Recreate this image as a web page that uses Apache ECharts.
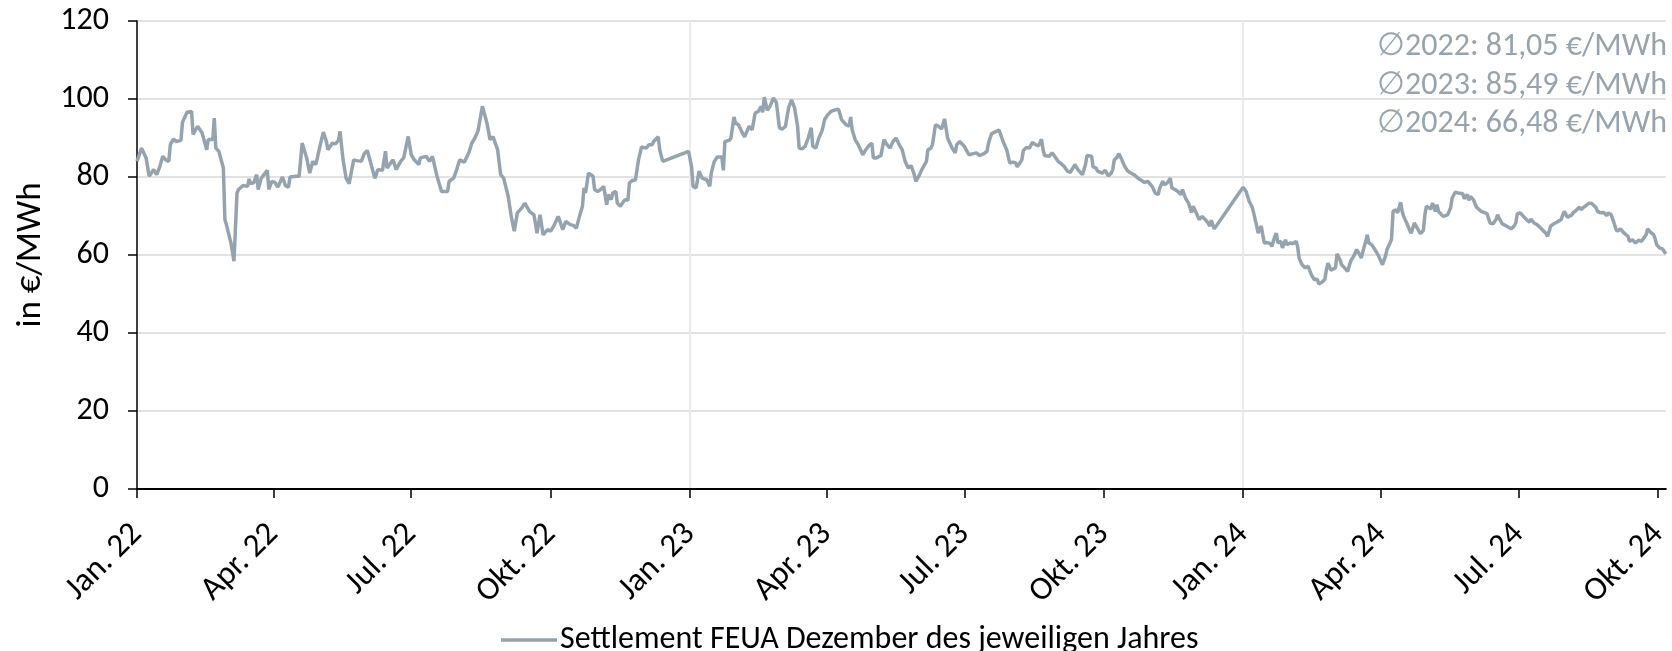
<!DOCTYPE html>
<html>
<head>
<meta charset="utf-8">
<script src="https://cdn.jsdelivr.net/npm/echarts@6/dist/echarts.min.js"></script>
<style>
html,body{margin:0;padding:0;background:#fff;}
#chart{width:1672px;height:651px;}
</style>
</head>
<body>
<div id="chart"></div>
<script>
// ---- DATA ----
const startDate = '2022-01-01';
const dayCount = 1010; // daily categories 2022-01-01 .. 2024-10-06

const tickDates  = ['2022-01-01','2022-04-01','2022-07-01','2022-10-01','2023-01-01','2023-04-01','2023-07-01','2023-10-01','2024-01-01','2024-04-01','2024-07-01','2024-10-01'];
const tickLabels = ['Jan. 22','Apr. 22','Jul. 22','Okt. 22','Jan. 23','Apr. 23','Jul. 23','Okt. 23','Jan. 24','Apr. 24','Jul. 24','Okt. 24'];
const yearLines  = ['2023-01-01','2024-01-01'];

const seriesName = 'Settlement FEUA Dezember des jeweiligen Jahres';
const averageTexts = ['\u22052022: 81,05 €/MWh','\u22052023: 85,49 €/MWh','\u22052024: 66,48 €/MWh'];

// [days since 2022-01-01, €/MWh]
const dec22Contract = [
[0,84.0],[3,87.4],[6,84.9],[8,80.2],[9,80.0],[11,81.9],[13,80.6],[15,82.6],[17,85.3],[19,84.4],[21,84.0],[22,88.3],[24,89.7],[26,89.1],[29,89.4],[30,94.0],[33,96.6],[36,96.8],[37,90.9],[40,93.0],[43,91.3],[46,87.0],[47,89.6],[50,89.6],[51,95.1],[52,87.4],[54,86.6],[57,82.3],[58,69.1],[59,67.8],[62,63.1],[64,58.4],[66,75.9],[67,76.8],[70,77.8],[73,77.6],[74,79.5],[75,78.3],[77,78.5],[79,80.6],[80,76.8],[82,79.7],[86,81.7],[87,76.8],[89,78.9],[91,78.6],[93,77.4],[96,80.0],[98,77.8],[100,77.4],[101,80.0],[105,80.2],[107,80.2],[109,88.7],[110,89.1],[112,84.9],[114,81.0],[116,84.0],[118,83.2],[119,83.2],[121,88.3],[123,91.5],[125,89.1],[126,87.0],[129,88.7],[131,88.5],[133,89.4],[134,91.7],[136,84.4],[138,79.7],[140,78.3],
[143,84.4],[145,84.2],[148,84.0],[150,86.0],[152,86.8],[157,79.7],[159,81.9],[162,81.7],[164,86.6],[165,82.3],[169,84.4],[171,81.9],[174,84.0],[176,84.9],[179,90.4],[181,85.7],[183,84.4],[186,83.2],[187,84.9],[191,85.3],[193,84.0],[195,85.3],[198,80.2],[201,76.3],[205,76.3],[206,78.9],[209,79.7],[211,81.9],[213,84.4],[216,83.8],[219,86.2],[221,88.7],[223,90.0],[225,91.7],[227,96.0],[228,98.1],[231,93.8],[233,89.6],[235,90.3],[238,87.0],[240,80.6],[242,79.7],[245,75.0],[247,69.9],[249,66.1],[251,70.8],[254,72.1],[256,73.3],[259,71.2],[262,70.3],[264,65.6],[266,70.3],[268,65.2],[271,66.5],[273,66.1],[275,67.4],[278,69.9],[281,66.5],[283,68.6],[286,67.8],
[288,67.6],[290,66.9],[292,69.9],[294,72.5],[295,77.2],[296,75.9],[298,81.0],[299,81.2],[301,80.2],[302,76.8],[304,76.3],[306,76.8],[308,77.6],[310,72.9],[311,75.5],[313,74.2],[314,75.9],[316,76.3],[317,73.3],[319,72.5],[320,72.9],[322,74.2],[324,74.0],[325,78.5],[327,79.1],[329,79.3],[331,84.4],[333,87.7],[336,87.4],[338,88.3],[340,88.3],[341,89.1],[344,90.3],[345,87.0],[347,84.0]
];
const dec23Contract = [
[364,86.6],[366,82.7],[367,77.6],[369,77.2],[371,81.5],[373,79.7],[374,80.2],[376,79.3],[378,77.6],[379,81.0],[381,84.0],[383,85.1],[386,85.1],[387,81.7],[388,89.1],[391,89.4],[392,90.0],[394,95.4],[395,93.8],[397,93.4],[399,91.7],[401,90.3],[404,93.0],[406,92.1],[408,96.4],[410,96.8],[412,98.1],[413,96.6],[414,100.5],[416,97.1],[418,98.3],[420,100.3],[422,99.1],[424,92.6],[426,92.3],[428,93.0],[430,97.7],
[432,99.8],[434,97.7],[436,93.0],[437,87.4],[439,87.2],[441,87.9],[443,90.0],[445,92.6],[446,87.9],[448,87.4],[450,90.0],[452,91.7],[454,94.9],[456,96.0],[458,96.8],[460,97.1],[463,97.4],[465,94.7],[468,93.4],[470,93.0],[471,95.4],[472,92.1],[474,89.6],[476,88.3],[479,85.7],[481,87.0],[483,88.0],[485,88.7],[486,84.9],[488,84.9],[491,85.5],[493,89.6],[495,88.3],[497,87.4],[499,89.1],[501,90.0],[503,88.3],[505,87.0],[507,84.0],[509,82.3],[511,82.9],[513,80.6],[514,78.9],[516,80.2],[518,81.9],[519,82.6],[521,84.0],[522,87.0],[524,87.4],[525,88.3],[527,93.4],[529,93.0],[531,92.3],[533,94.9],[535,90.0],[536,89.1],[538,87.4],[540,86.2],[541,88.3],[543,89.1],[546,87.9],[549,85.7],[552,86.0],[554,86.2],[556,85.5],[559,86.0],[561,86.6],[562,88.7],[564,91.1],[566,91.5],[569,92.0],[570,90.9],[572,88.7],[574,87.0],[576,83.6],
[578,83.8],[580,83.6],[581,82.6],[584,84.4],[585,86.8],[587,87.6],[589,87.4],[591,88.9],[593,88.3],[595,88.0],[597,89.7],[598,87.0],[599,85.5],[602,85.3],[604,86.2],[606,85.1],[608,84.0],[610,83.4],[612,82.7],[614,81.5],[616,81.2],[617,81.0],[619,83.2],[621,81.9],[624,80.6],[626,83.2],[627,85.5],[630,85.3],[631,82.6],[633,82.3],[634,81.5],[637,81.0],[639,81.7],[641,80.3],[643,81.0],[644,81.9],[645,84.4],[647,85.1],[648,86.0],[650,84.4],[652,82.6],[654,81.5],[658,80.6],[661,79.6],[663,79.1],[665,78.6],[667,78.9],[670,77.6],[672,75.9],[674,75.5],[675,77.2],[677,78.9],[678,78.0],[680,78.5],[682,79.7],[683,77.2],[685,76.8],[687,76.3],[689,75.5],[690,76.8],[692,74.6],[694,73.3],[696,70.9],[697,72.5],[699,70.9],[701,69.1],[703,69.9],[705,69.1],[707,68.2],[708,67.4],[709,68.9],[711,66.7]
];
const dec24Contract = [
[730,77.4],[732,76.3],[733,75.9],[734,73.8],[736,72.3],[737,70.8],[739,67.4],[740,65.6],[741,66.7],[742,67.4],[743,65.2],[744,63.1],[746,63.2],[748,62.9],[749,62.2],[751,64.8],[752,65.6],[753,63.1],[755,63.5],[756,61.8],[758,63.9],[759,62.6],[761,63.1],[763,62.9],[765,63.5],[766,62.2],[767,59.2],[769,57.5],[771,56.7],[773,57.1],[775,55.0],[776,54.5],[777,53.7],[779,53.8],[780,52.6],[782,53.0],[784,53.8],[785,56.2],[786,57.9],[788,56.1],[789,56.4],[791,56.7],[792,60.3],[794,58.8],[795,57.5],[797,56.7],[799,55.8],[800,57.1],[801,58.4],[803,59.7],[805,61.4],[807,60.1],[808,59.2],[810,62.2],[811,63.5],[812,65.2],[813,63.1],[815,62.6],[817,61.4],[819,60.1],[821,58.4],[822,57.5],[824,59.7],[825,61.4],[827,63.1],[828,64.1],[829,71.2],[831,71.6],[832,70.8],[834,73.5],[835,71.2],[836,69.9],[838,68.2],[840,66.3],[841,65.6],[843,68.2],[844,68.4],[845,66.9],[847,65.5],[849,66.3],[850,70.3],[851,72.5],[852,72.9],[854,71.8],[855,73.3],[857,71.2],[858,72.9],[859,71.2],[862,69.9],[863,69.7],
[865,70.3],[867,72.1],[868,74.6],[870,76.1],[872,75.9],[873,76.1],[875,75.7],[876,74.4],[878,75.5],[879,74.0],[880,75.0],[882,74.2],[884,72.3],[885,71.8],[887,71.2],[889,70.9],[891,70.6],[893,68.2],[895,68.0],[897,69.1],[898,70.3],[899,69.5],[901,68.0],[902,67.8],[904,67.4],[907,66.7],[909,67.5],[910,68.2],[911,70.6],[913,70.8],[915,69.9],[917,69.1],[919,68.4],[920,69.2],[922,68.2],[924,67.8],[925,67.4],[928,66.3],[930,65.5],[931,64.8],[932,66.1],[933,67.4],[935,68.0],[937,68.4],[940,69.1],[941,70.3],[942,71.2],[944,69.7],[945,69.5],[947,70.3],[948,70.9],[950,71.5],[952,72.3],[953,71.6],[955,72.3],[956,72.6],[958,73.2],[960,73.3],[961,72.9],[963,72.1],[964,71.2],[966,70.8],[968,70.9],[970,70.1],[971,70.8],[973,70.3],[975,68.0],[976,66.7],[977,66.1],[979,66.7],[981,65.8],[982,65.5],[984,64.8],[985,63.5],[987,63.9],[989,63.1],[991,63.8],[993,63.5],[994,64.1],[996,65.2],[997,66.7],[999,65.8],[1001,65.2],[1002,64.1],[1003,62.6],[1005,61.8],[1007,61.5],[1008,61.2],[1009,60.3]
];

// ---- BUILD ----
const categories = [];
const s0 = new Date(startDate + 'T00:00:00Z').getTime();
for (let i = 0; i < dayCount; i++) {
  categories.push(new Date(s0 + i * 86400000).toISOString().slice(0, 10));
}
const labelMap = {};
tickDates.forEach((d, i) => { labelMap[d] = tickLabels[i]; });
const seriesData = dec22Contract.concat(dec23Contract, dec24Contract);

const FONT = 'Carlito, Calibri, Lato, sans-serif';
const LINE_COLOR = '#95a3ae';

const chart = echarts.init(document.getElementById('chart'), null, {renderer: 'canvas'});
chart.setOption({
  animation: false,
  backgroundColor: '#ffffff',
  grid: {left: 137, right: 3, top: 21, bottom: 162, containLabel: false},
  xAxis: {
    type: 'category',
    data: categories,
    boundaryGap: false,
    axisLine: {show: true, lineStyle: {color: '#000', width: 2}},
    axisTick: {show: true, length: 9, lineStyle: {color: '#000', width: 1.5},
      interval: (idx, val) => labelMap[val] !== undefined},
    axisLabel: {show: true, rotate: 45, margin: 40, padding: [18, 0, 0, 0],
      fontFamily: FONT, fontSize: 33, color: '#000',
      interval: (idx, val) => labelMap[val] !== undefined,
      formatter: (val) => labelMap[val] || ''},
    splitLine: {show: true, lineStyle: {color: '#ebebeb', width: 2},
      interval: (idx, val) => yearLines.indexOf(val) >= 0}
  },
  yAxis: {
    type: 'value',
    min: 0, max: 120, interval: 20,
    name: 'in €/MWh',
    nameLocation: 'middle',
    nameGap: 88,
    nameRotate: 90,
    nameTextStyle: {fontFamily: FONT, fontSize: 35, color: '#000'},
    axisLine: {show: true, lineStyle: {color: '#000', width: 1.5}},
    axisTick: {show: true, length: 9, lineStyle: {color: '#000', width: 1.5}},
    axisLabel: {margin: 28, fontFamily: FONT, fontSize: 32, color: '#000'},
    splitLine: {show: true, lineStyle: {color: '#d9d9d9', width: 1.5}}
  },
  legend: {
    show: true,
    data: [seriesName],
    left: 501, top: 624,
    padding: 0,
    icon: 'rect',
    itemWidth: 56, itemHeight: 3.5,
    itemGap: 10,
    textStyle: {fontFamily: FONT, fontSize: 32, color: '#000', padding: [0, 0, 0, -2]}
  },
  graphic: averageTexts.map((t, i) => ({
    type: 'text',
    right: 5,
    top: 31 + i * 38.5,
    style: {text: t, fill: '#97a3ad', font: '32px ' + FONT}
  })),
  series: [{
    name: seriesName,
    type: 'line',
    data: seriesData,
    showSymbol: false,
    symbol: 'none',
    lineStyle: {color: LINE_COLOR, width: 3.5},
    itemStyle: {color: LINE_COLOR},
    z: 3
  }]
});
</script>
</body>
</html>
